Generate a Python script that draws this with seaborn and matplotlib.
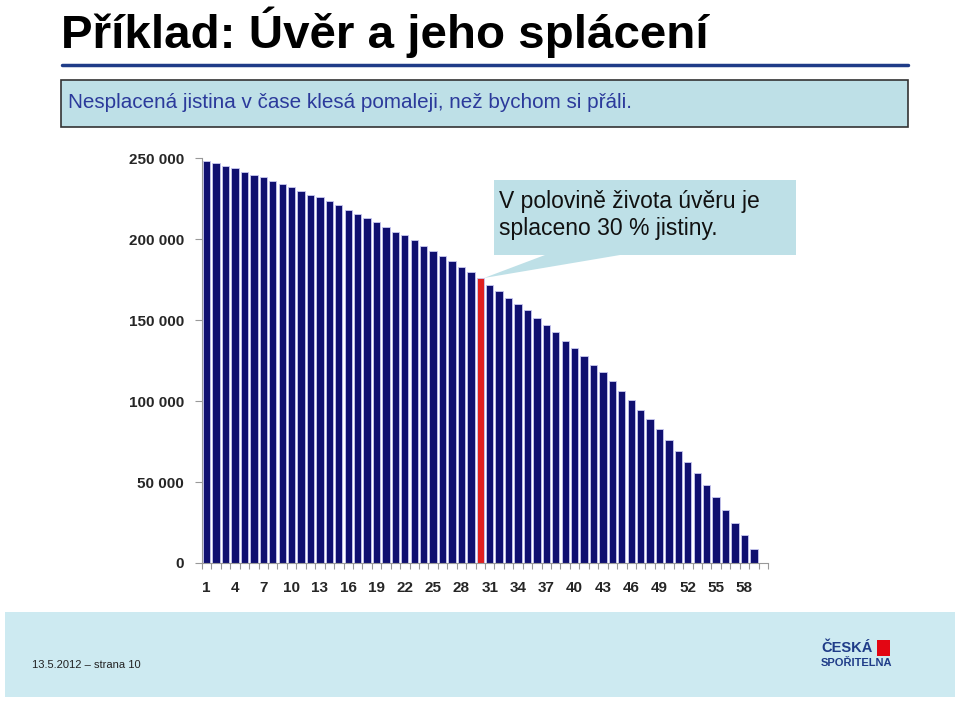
import matplotlib
matplotlib.use("Agg")
import matplotlib.pyplot as plt
import seaborn as sns
import pandas as pd
from matplotlib.patches import Rectangle, Polygon
from matplotlib.ticker import FuncFormatter

# ---- data ----
periods = list(range(1, 61))
balance = [248100, 246700, 245300, 243600, 241400, 239700, 238100, 235800, 234200, 231900,
           229600, 227400, 225700, 223500, 221000, 217700, 215400, 213200, 210700, 207600,
           204500, 202300, 199200, 195900, 192800, 189500, 186600, 182500, 179400, 175700,
           171800, 167700, 163800, 159900, 156000, 151200, 146700, 142800, 137200, 132500,
           128000, 122400, 117900, 112300, 106200, 100600, 94200, 88900, 82500, 75700,
           69300, 62300, 55400, 48300, 40600, 32700, 24900, 17100, 8500, 0]
highlight_period = 30
tick_labels = [str(p) for p in range(1, 59, 3)]
y_ticks = [0, 50000, 100000, 150000, 200000, 250000]

title = "Příklad: Úvěr a jeho splácení"
subtitle = "Nesplacená jistina v čase klesá pomaleji, než bychom si přáli."
callout = "V polovině života úvěru je\nsplaceno 30 % jistiny."
footer = "13.5.2012 – strana 10"

sns.set_theme(style="white")
plt.rcParams['font.family'] = ['Liberation Sans', 'DejaVu Sans']

fig = plt.figure(figsize=(9.6, 7.01), dpi=100)
W, H = 960, 701

def fx(x):
    return x / W

def fy(y):
    return 1 - y / H

# footer band
fig.patches.append(Rectangle((fx(5), fy(697)), fx(950), (697 - 612) / H,
                             transform=fig.transFigure, facecolor="#CDEAF1",
                             edgecolor="none", zorder=0))

# title
fig.text(fx(61), fy(32), title, fontsize=34.2, fontweight="bold", color="black",
         ha="left", va="center")
# blue line under the title
fig.add_artist(plt.Line2D([fx(62), fx(908)], [fy(65), fy(65)], transform=fig.transFigure,
                          color="#1F3C88", lw=2.5))
# subtitle box
fig.patches.append(Rectangle((fx(61), fy(127)), fx(847), 47 / H,
                             transform=fig.transFigure, facecolor="#BEE0E7",
                             edgecolor="#333333", lw=1.2, zorder=1))
fig.text(fx(68), fy(103), subtitle, fontsize=14.9, color="#2B3A9B",
         ha="left", va="center", zorder=2)

# axes
ax = fig.add_axes([fx(202), fy(563), 566 / W, 405 / H])
df = pd.DataFrame({"period": [str(p) for p in periods], "balance": balance})
colors = ["#FF0000" if p == highlight_period else "#000080" for p in periods]
sns.barplot(data=df, x="period", y="balance", hue="period", palette=colors,
            legend=False, width=0.78, edgecolor="#C8C8F0", linewidth=0.6, ax=ax,
            order=df["period"], hue_order=df["period"])

ax.set_xlim(-0.5, len(periods) - 0.5)
ax.set_ylim(0, 250000)
ax.set_xlabel("")
ax.set_ylabel("")
ax.set_xticks(range(0, 58, 3))
ax.set_xticklabels(tick_labels, fontweight="bold")
ax.set_xticks([i - 0.5 for i in range(len(periods) + 1)], minor=True)
ax.tick_params(axis="x", which="major", length=0, pad=13, labelsize=11)
ax.tick_params(axis="x", which="minor", length=4, color="#999999", width=0.8,
               direction="out", bottom=True)
ax.set_yticks(y_ticks)
ax.yaxis.set_major_formatter(FuncFormatter(lambda v, p: f"{int(v):,}".replace(",", " ")))
ax.tick_params(axis="y", length=5, color="#999999", width=0.8, direction="out",
               left=True, pad=8, labelsize=11)
for lbl in ax.get_yticklabels():
    lbl.set_fontweight("bold")
for s in ["top", "right"]:
    ax.spines[s].set_visible(False)
for s in ["left", "bottom"]:
    ax.spines[s].set_color("#999999")
    ax.spines[s].set_linewidth(0.8)

# callout
fig.patches.append(Polygon([(fx(494), fy(180)), (fx(796), fy(180)), (fx(796), fy(255)),
                            (fx(620), fy(255)), (fx(484), fy(278)), (fx(545), fy(255)),
                            (fx(494), fy(255))],
                           closed=True, transform=fig.transFigure,
                           facecolor="#BEE0E7", edgecolor="none", zorder=3))
fig.text(fx(499), fy(215), callout, fontsize=16.5, color="#111111", ha="left",
         va="center", linespacing=1.2, zorder=4)

# footer text and logo
fig.text(fx(32), fy(665), footer, fontsize=8, color="#222222", ha="left", va="center")
fig.text(fx(821), fy(648), "ČESKÁ", fontsize=10.5, fontweight="bold", color="#1F3C88",
         ha="left", va="center")
fig.text(fx(821), fy(663), "SPOŘITELNA", fontsize=8, fontweight="bold", color="#1F3C88",
         ha="left", va="center")
fig.patches.append(Rectangle((fx(877), fy(656)), 13 / W, 16 / H, transform=fig.transFigure,
                             facecolor="#E30613", edgecolor="none", zorder=3))

fig.savefig("out.png", dpi=100)
